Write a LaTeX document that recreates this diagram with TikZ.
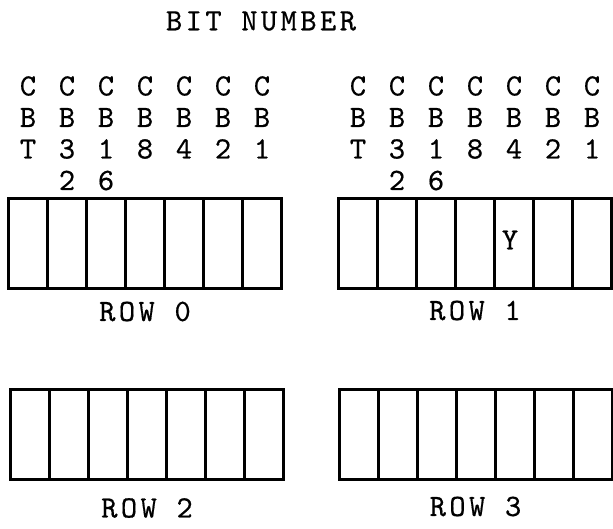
\documentclass[tikz,border=0pt]{standalone}
\usepackage{fontspec}
\newfontfamily\typer[LetterSpace=11, FakeBold=0.5]{lmmono10-regular.otf}
\usetikzlibrary{positioning}

\begin{document}
\begin{tikzpicture}[x=1pt, y=-1pt,
  cell/.style = {draw, line width=3pt, minimum width=39pt, minimum height=90pt, inner sep=0pt},
  bitcol/.style = {font=\fontsize{31}{31.5}\selectfont\typer, align=center, inner sep=0pt, anchor=north},
  label/.style = {font=\fontsize{31}{34}\selectfont\typer, inner sep=0pt}
]
  \useasboundingbox (0,0) rectangle (613,529);

  % Title
  \node[label] (title) at (261,21) {BIT NUMBER};
  \coordinate (hdtop) at (0,76);

  % Rows
  \foreach \r/\x/\y/\gap in {0/28/244/11, 1/358/244/10, 2/30/434.5/17, 3/358.5/434/16} {
    \foreach \c in {1,...,7}
      \node[cell] (r\r-\c) at ({\x+(\c-1)*39},\y) {};
    \node[label, below=\gap pt of r\r-4] (lbl\r) {ROW \r};
  }

  % Bit headings over rows 0 and 1
  \foreach \r in {0,1}
    \foreach \c/\txt in {1/{C\\B\\T}, 2/{C\\B\\3\\2}, 3/{C\\B\\1\\6}, 4/{C\\B\\8},
                         5/{C\\B\\4}, 6/{C\\B\\2}, 7/{C\\B\\1}}
      \node[bitcol] (h\r-\c) at (r\r-\c |- hdtop) {\txt};

  % Marked bit
  \node[label, xshift=-4pt, yshift=4pt] (ybit) at (r1-5) {Y};

\end{tikzpicture}
\end{document}
